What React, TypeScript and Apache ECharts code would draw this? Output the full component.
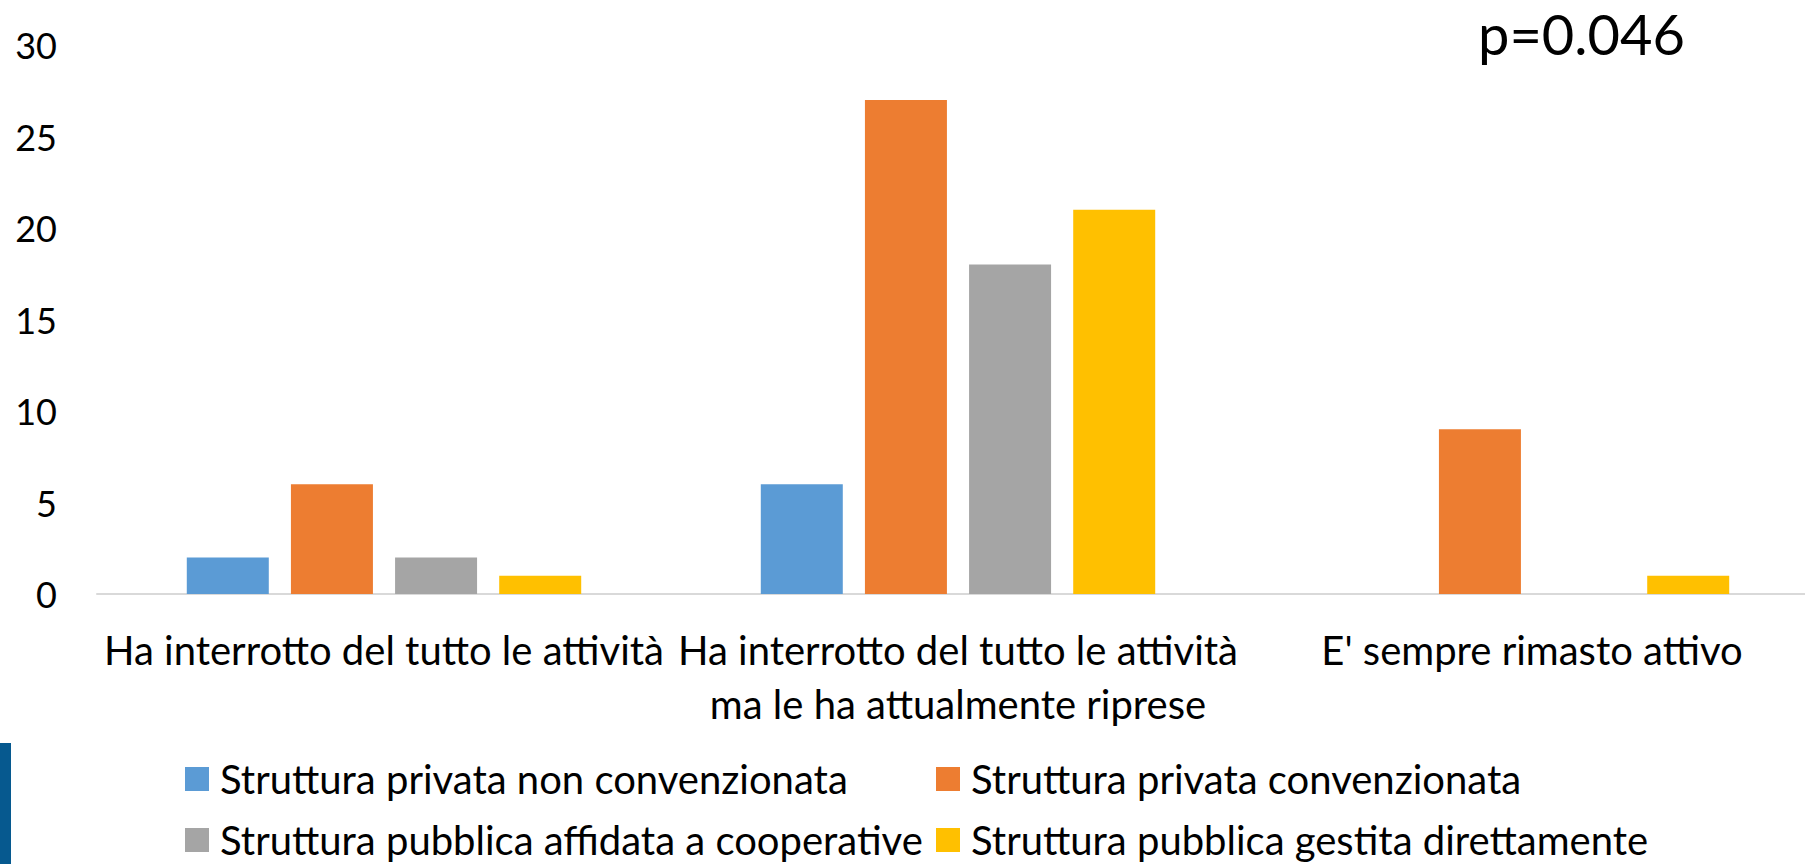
import React, { useEffect, useRef } from "react";
import * as echarts from "echarts";

const categories: string[] = [
  "Ha interrotto del tutto le attività",
  "Ha interrotto del tutto le attività\nma le ha attualmente riprese",
  "E' sempre rimasto attivo",
];

const seriesNames: string[] = [
  "Struttura privata non convenzionata",
  "Struttura privata convenzionata",
  "Struttura pubblica affidata a cooperative",
  "Struttura pubblica gestita direttamente",
];

const privataNonConv: number[] = [2, 6, 0];
const privataConv: number[] = [6, 27, 9];
const pubblicaCoop: number[] = [2, 18, 0];
const pubblicaDiretta: number[] = [1, 21, 1];

const yTicks = { min: 0, max: 30, interval: 5 };
const pValueLabel = "p=0.046";

const colors = ["#5B9BD5", "#ED7D31", "#A5A5A5", "#FFC000"];
const FONT = "Lato, 'Open Sans', sans-serif";
const FS_Y = 36;
const FS = 40;

export default function App() {
  const ref = useRef<HTMLDivElement>(null);

  useEffect(() => {
    if (!ref.current) return;
    const chart = echarts.init(ref.current, undefined, { renderer: "svg" });
    const values = [privataNonConv, privataConv, pubblicaCoop, pubblicaDiretta];
    const legendPos = [
      { left: 185, top: 759 },
      { left: 936, top: 759 },
      { left: 185, top: 820 },
      { left: 936, top: 820 },
    ];
    chart.setOption({
      animation: false,
      backgroundColor: "#ffffff",
      textStyle: { fontFamily: FONT },
      grid: {
        left: 97,
        right: -14,
        top: 45,
        bottom: 270,
        containLabel: false,
        outerBoundsMode: "none",
      },
      xAxis: {
        type: "category",
        data: categories,
        axisLine: { show: true, lineStyle: { color: "#D9D9D9", width: 2 } },
        axisTick: { show: false },
        axisLabel: {
          interval: 0,
          color: "#000000",
          fontFamily: FONT,
          fontSize: FS,
          lineHeight: 54,
          margin: 29,
        },
        splitLine: { show: false },
      },
      yAxis: {
        type: "value",
        min: yTicks.min,
        max: yTicks.max,
        interval: yTicks.interval,
        axisLine: { show: false },
        axisTick: { show: false },
        splitLine: { show: false },
        axisLabel: {
          color: "#000000",
          fontFamily: FONT,
          fontSize: FS_Y,
          margin: 40,
        },
      },
      legend: seriesNames.map((name, i) => ({
        data: [name],
        left: legendPos[i].left,
        top: legendPos[i].top,
        orient: "horizontal",
        padding: 0,
        itemWidth: 24,
        itemHeight: 24,
        icon: "rect",
        selectedMode: false,
        textStyle: {
          color: "#000000",
          fontFamily: FONT,
          fontSize: FS,
          lineHeight: 36,
          padding: [0, 0, 0, 6],
        },
      })),
      series: seriesNames.map((name, i) => ({
        name,
        type: "bar",
        data: values[i],
        barWidth: 82,
        barGap: "27%",
        itemStyle: { color: colors[i] },
      })),
      graphic: [
        {
          type: "text",
          left: 1478,
          top: 5,
          style: {
            text: pValueLabel,
            fill: "#000000",
            font: `56px ${FONT}`,
          },
        },
        {
          type: "rect",
          shape: { x: 0, y: 743, width: 11, height: 121 },
          style: { fill: "#06598F" },
        },
      ],
    });
    return () => chart.dispose();
  }, []);

  return (
    <div
      ref={ref}
      style={{ position: "absolute", left: 0, top: 0, width: 1805, height: 864 }}
    />
  );
}
